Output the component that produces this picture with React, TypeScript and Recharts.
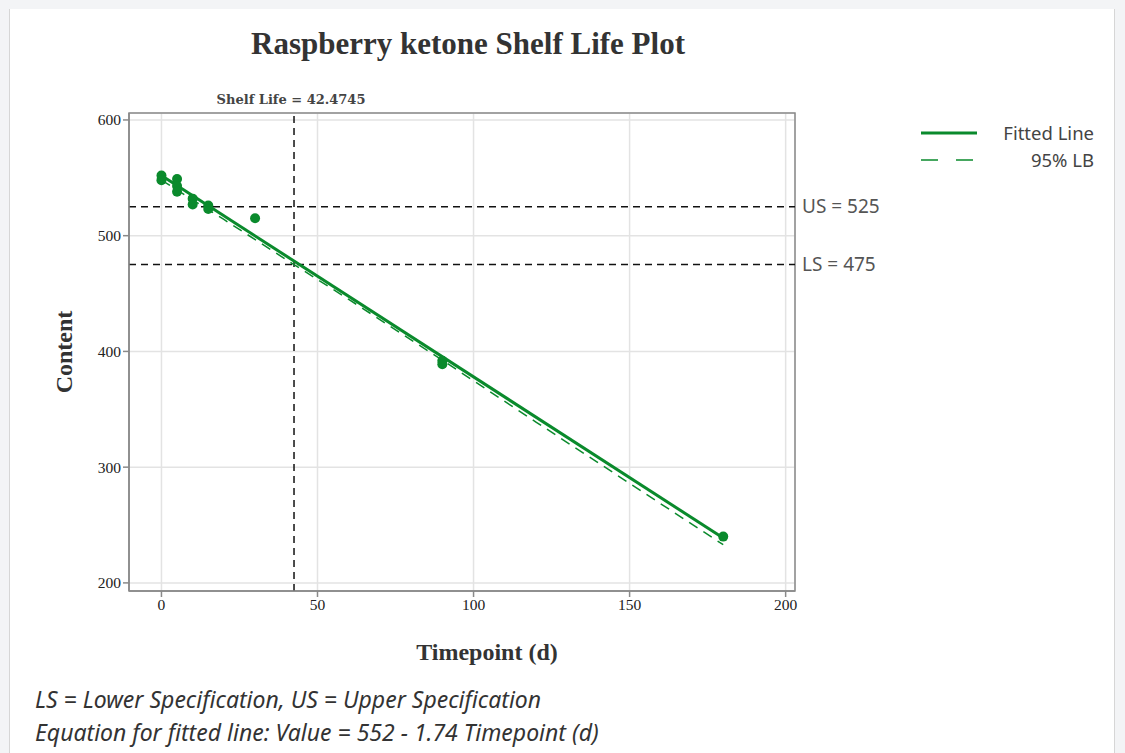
import React from "react";
import {
  ComposedChart,
  Scatter,
  Line,
  XAxis,
  YAxis,
  CartesianGrid,
  ReferenceLine,
  ReferenceArea,
  Label,
} from "recharts";

const GREEN = "#0a8a2c";
const SERIF = "'Liberation Serif', 'Times New Roman', serif";
const SANS = "'Noto Sans', 'Open Sans', sans-serif";

// measured content at each pull timepoint (days)
const sampleTimes = [0, 0, 5, 5, 5, 10, 10, 15, 15, 30, 90, 90, 180];
const sampleContent = [552, 548, 549, 543, 538, 532, 527, 526, 523, 515, 392, 389, 240];

// regression line: Value = 552 - 1.74 Timepoint
const fitTimes = [0, 180];
const fitValues = [552, 238.8];

// one-sided 95% lower confidence bound
const lbTimes = [0, 20, 42.4745, 60, 90, 120, 150, 180];
const lbValues = [548, 514, 475, 445, 392.5, 339, 286, 233];

const xTicks = [0, 50, 100, 150, 200];
const yTicks = [200, 300, 400, 500, 600];

const upperSpec = 525;
const lowerSpec = 475;
const shelfLife = 42.4745;

const X_DOMAIN: [number, number] = [-10.4, 203];
const Y_DOMAIN: [number, number] = [193, 606];

const points = sampleTimes.map((t, i) => ({ t, v: sampleContent[i] }));
const fitted = fitTimes.map((t, i) => ({ t, v: fitValues[i] }));
const lower = lbTimes.map((t, i) => ({ t, v: lbValues[i] }));

const legendItems = [
  { name: "Fitted Line", width: 3, dash: undefined },
  { name: "95% LB", width: 1.5, dash: "17 18" },
];

const ChartLegend = () => (
  <div
    style={{
      position: "absolute",
      left: 918,
      top: 119,
      width: 176,
      fontFamily: SANS,
      fontSize: 18.5,
      color: "#444",
    }}
  >
    {legendItems.map((item) => (
      <div key={item.name} style={{ display: "flex", alignItems: "center", height: 27 }}>
        <svg width={62} height={10}>
          <line
            x1={3}
            y1={5}
            x2={59}
            y2={5}
            stroke={GREEN}
            strokeWidth={item.width}
            strokeDasharray={item.dash}
          />
        </svg>
        <span style={{ flex: 1, textAlign: "right" }}>{item.name}</span>
      </div>
    ))}
  </div>
);

export default function App() {
  return (
    <div
      style={{
        position: "absolute",
        left: 0,
        top: 0,
        width: 1125,
        height: 753,
        background: "#f3f4f6",
        overflow: "hidden",
      }}
    >
      <div
        style={{
          position: "absolute",
          left: 9,
          top: 9,
          width: 1104,
          height: 760,
          background: "#fff",
          borderLeft: "1px solid #d6d6d6",
          borderRight: "1px solid #d6d6d6",
        }}
      />
      <div style={{ position: "absolute", left: 0, top: 0, width: 1125, height: 753 }}>
        <ComposedChart
          width={1125}
          height={753}
          margin={{ top: 113, right: 330, bottom: 132, left: 69 }}
        >
          <CartesianGrid stroke="#e3e3e3" strokeWidth={1.5} />
          <XAxis
            type="number"
            dataKey="t"
            domain={X_DOMAIN}
            ticks={xTicks}
            allowDataOverflow
            height={30}
            stroke="#8a8a8a"
            strokeWidth={1.5}
            tickSize={6}
            tick={{ fontFamily: SERIF, fontSize: 15.5, fill: "#222" }}
          >
            <Label
              value="Timepoint (d)"
              position="bottom"
              offset={22}
              dx={25}
              style={{ fontFamily: SERIF, fontSize: 24, fontWeight: "bold", fill: "#333" }}
            />
          </XAxis>
          <YAxis
            type="number"
            dataKey="v"
            domain={Y_DOMAIN}
            ticks={yTicks}
            allowDataOverflow
            width={60}
            stroke="#8a8a8a"
            strokeWidth={1.5}
            tickSize={6}
            tick={{ fontFamily: SERIF, fontSize: 15.5, fill: "#222" }}
          >
            <Label
              value="Content"
              angle={-90}
              position="insideLeft"
              dx={-11}
              style={{
                fontFamily: SERIF,
                fontSize: 24,
                fontWeight: "bold",
                fill: "#333",
                textAnchor: "middle",
              }}
            />
          </YAxis>
          <ReferenceArea
            x1={X_DOMAIN[0]}
            x2={X_DOMAIN[1]}
            y1={Y_DOMAIN[0]}
            y2={Y_DOMAIN[1]}
            fill="none"
            stroke="#8a8a8a"
            strokeWidth={1.5}
          />
          <ReferenceLine y={upperSpec} stroke="#111" strokeWidth={1.5} strokeDasharray="7 5">
            <Label
              value={`US = ${upperSpec}`}
              position="right"
              offset={7}
              style={{ fontFamily: SANS, fontSize: 19, fill: "#555" }}
            />
          </ReferenceLine>
          <ReferenceLine y={lowerSpec} stroke="#111" strokeWidth={1.5} strokeDasharray="7 5">
            <Label
              value={`LS = ${lowerSpec}`}
              position="right"
              offset={7}
              style={{ fontFamily: SANS, fontSize: 19, fill: "#555" }}
            />
          </ReferenceLine>
          <ReferenceLine x={shelfLife} stroke="#111" strokeWidth={1.5} strokeDasharray="7 5">
            <Label
              value={`Shelf Life = ${shelfLife}`}
              position="top"
              offset={9}
              dx={-3}
              style={{
                fontFamily: "'DejaVu Serif', serif",
                fontSize: 13,
                fontWeight: "bold",
                fill: "#444",
              }}
            />
          </ReferenceLine>
          <Line
            data={lower}
            dataKey="v"
            type="linear"
            stroke={GREEN}
            strokeWidth={1.5}
            strokeDasharray="10 7"
            dot={false}
            isAnimationActive={false}
          />
          <Line
            data={fitted}
            dataKey="v"
            type="linear"
            stroke={GREEN}
            strokeWidth={3}
            dot={false}
            isAnimationActive={false}
          />
          <Scatter
            data={points}
            dataKey="v"
            fill={GREEN}
            isAnimationActive={false}
            shape={(p: any) => <circle cx={p.cx} cy={p.cy} r={5} fill={GREEN} />}
          />
        </ComposedChart>
      </div>
      <ChartLegend />
      <div
        style={{
          position: "absolute",
          left: 0,
          top: 24,
          width: 936,
          textAlign: "center",
          fontFamily: SERIF,
          fontSize: 31,
          lineHeight: "40px",
          fontWeight: "bold",
          color: "#333",
        }}
      >
        Raspberry ketone Shelf Life Plot
      </div>
      <div
        style={{
          position: "absolute",
          left: 35,
          top: 683,
          fontFamily: SANS,
          fontStyle: "italic",
          fontSize: 23,
          lineHeight: "33px",
          color: "#333",
        }}
      >
        <div>LS = Lower Specification, US = Upper Specification</div>
        <div>Equation for fitted line: Value = 552 - 1.74 Timepoint (d)</div>
      </div>
    </div>
  );
}
